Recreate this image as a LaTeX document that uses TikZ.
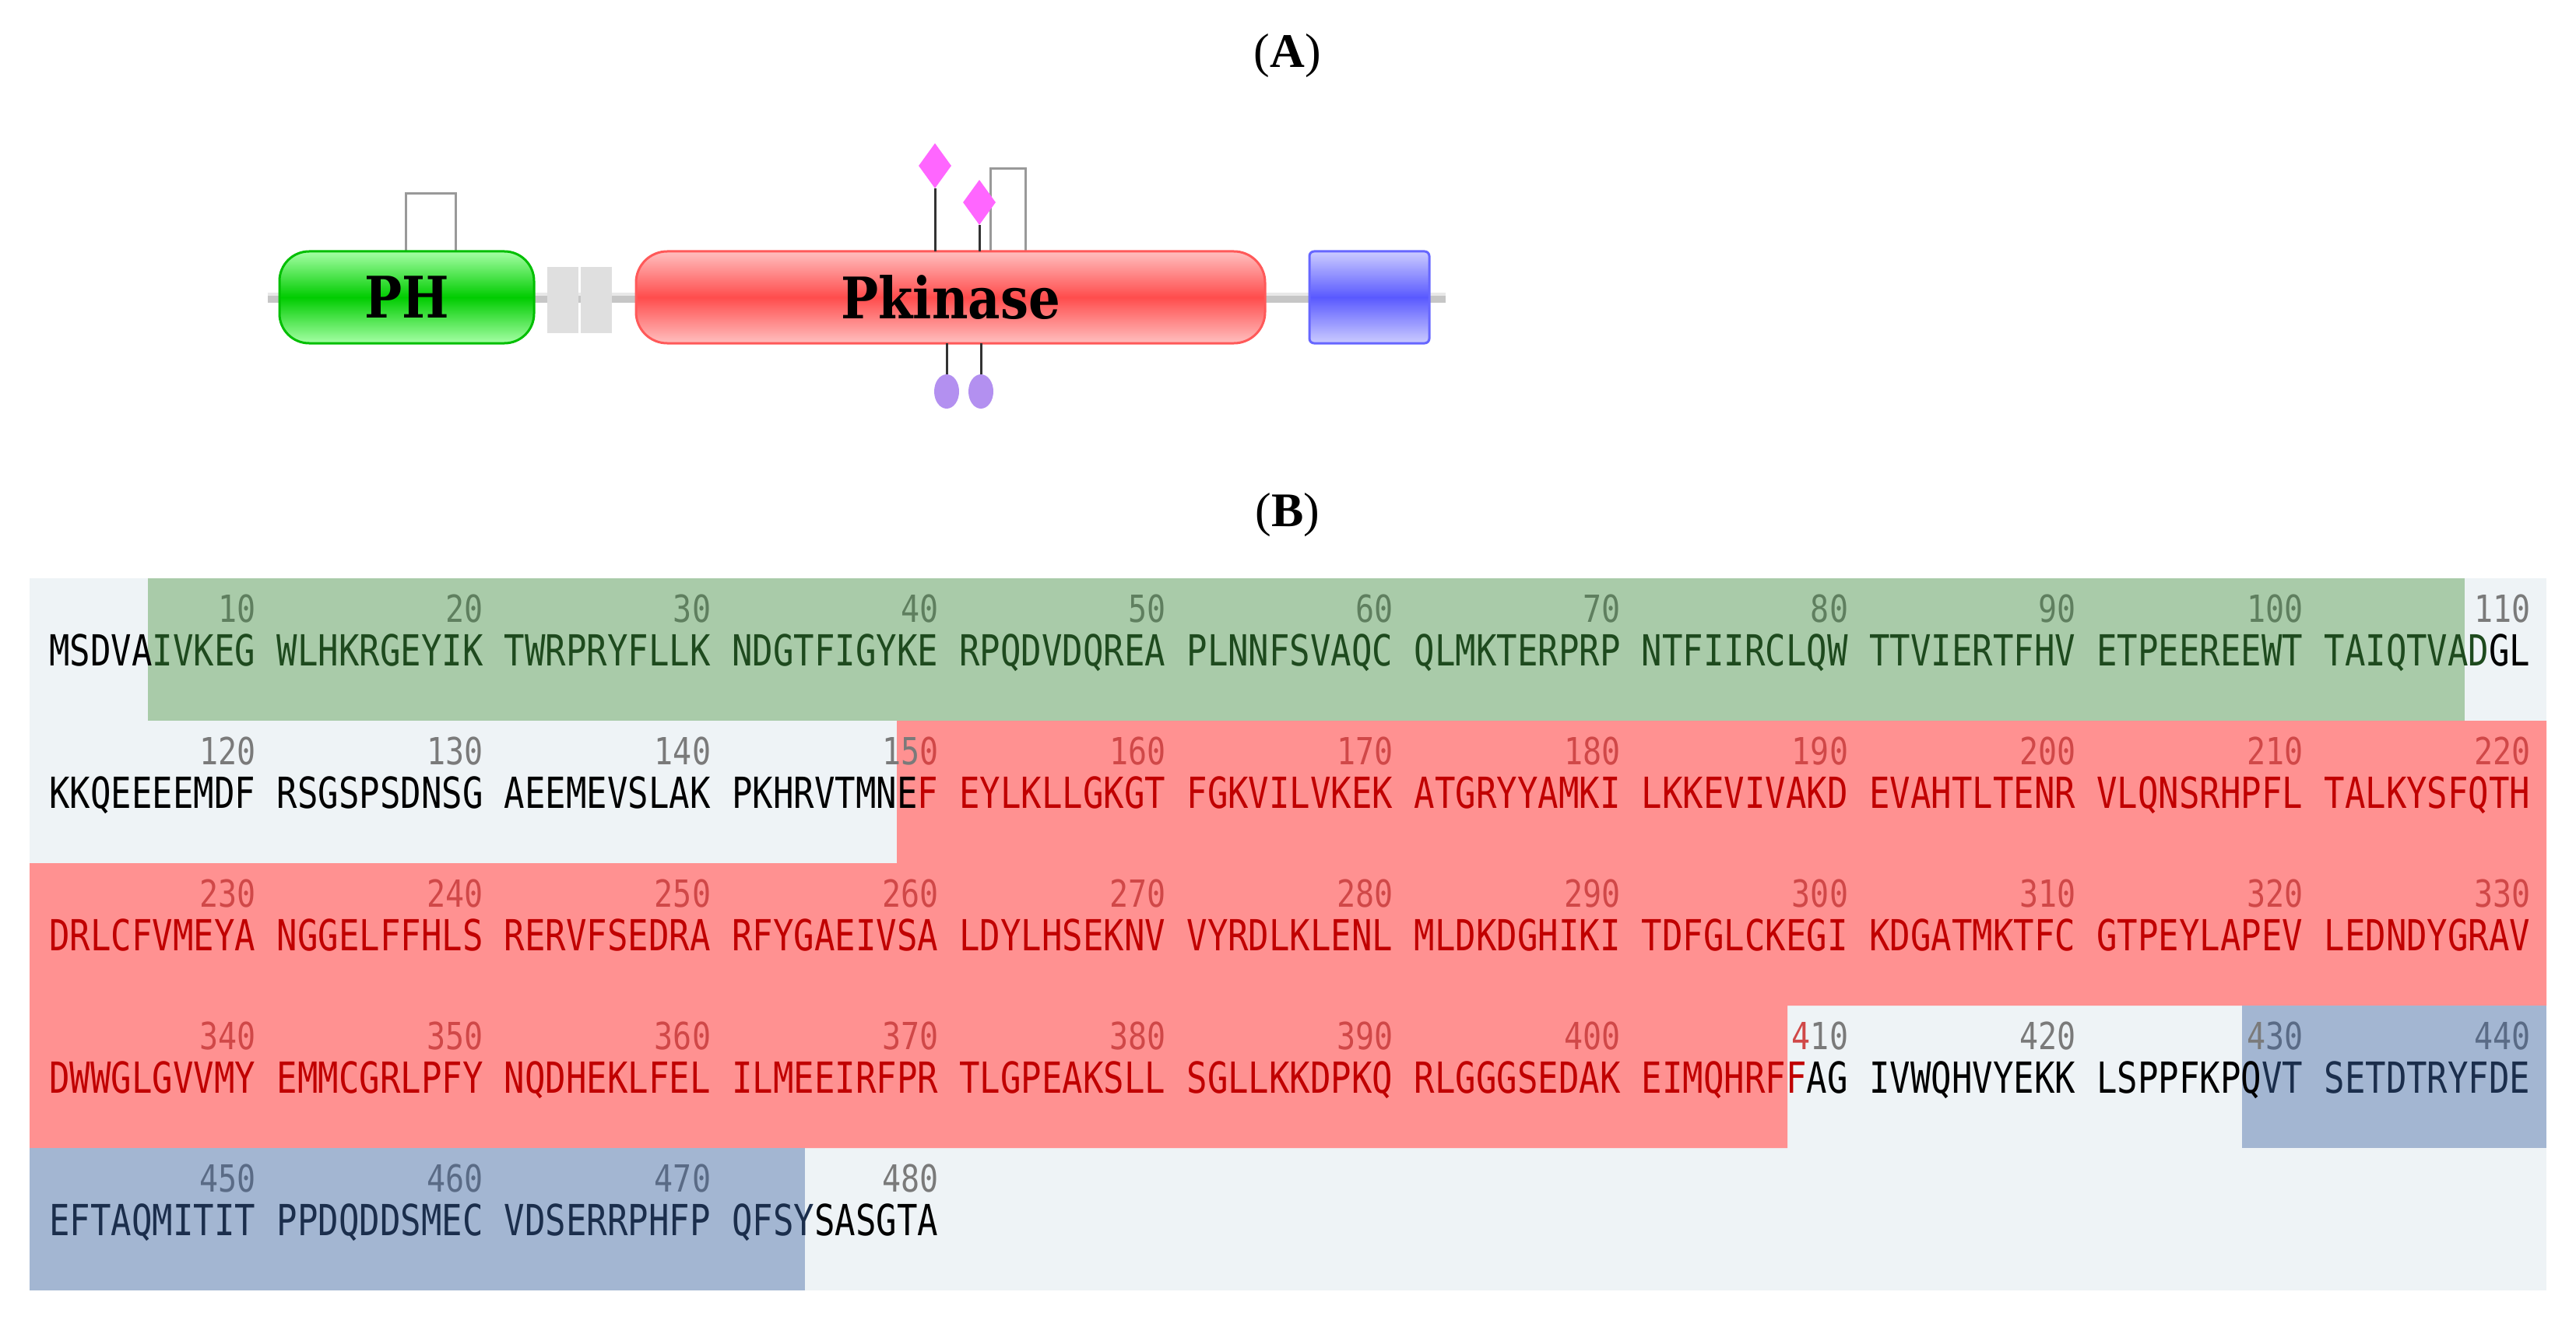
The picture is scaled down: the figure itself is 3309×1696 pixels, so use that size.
\documentclass[tikz,border=0pt]{standalone}
\usepackage{fontspec}
\setmainfont{Liberation Serif}
\setmonofont{DejaVu Sans Mono}
\newfontfamily\domfont{DejaVu Serif}
\usetikzlibrary{shapes.geometric}
\definecolor{bgpanel}{HTML}{EEF3F6}
\definecolor{greg}{HTML}{A9CBA9}
\definecolor{redg}{HTML}{FF9191}
\definecolor{blug}{HTML}{A3B6D2}
\definecolor{gtxt}{HTML}{1E4A1E}
\definecolor{rtxt}{HTML}{C00000}
\definecolor{btxt}{HTML}{1B2E4C}
\definecolor{gnum}{HTML}{5F7F5F}
\definecolor{rnum}{HTML}{D04848}
\definecolor{bnum}{HTML}{5A6B86}
\definecolor{knum}{HTML}{7A7A7A}
\definecolor{pinkd}{HTML}{FF66FF}
\definecolor{lavo}{HTML}{B390F0}
\newcommand{\G}[1]{\textcolor{gtxt}{#1}}
\newcommand{\R}[1]{\textcolor{rtxt}{#1}}
\newcommand{\Bl}[1]{\textcolor{btxt}{#1}}
\newcommand{\K}[1]{\textcolor{black}{#1}}
\tikzset{
  seqtxt/.style={anchor=base west,inner sep=0pt,transform shape,yscale=1.25,font=\fontsize{44}{44}\selectfont\ttfamily},
  numtxt/.style={anchor=base east,inner sep=0pt,transform shape,yscale=1.2,font=\fontsize{40}{40}\selectfont\ttfamily},
  plabel/.style={font=\fontsize{62}{62}\selectfont},
  stemline/.style={line width=3pt,draw=black!80},
  bracket/.style={line width=3pt,draw=gray!80},
  domlabel/.style={transform shape,yscale=1.15,font=\fontsize{64}{64}\selectfont\domfont\bfseries}
}
% #1 row, #2 col, #3 text, #4 number, #5 number colour
\newcommand{\blk}[5]{%
  \node[seqtxt] (s#1-#2) at ({63.3+#2*292.2},{743+#1*183+112}) {#3};
  \node[numtxt,text=#5] (n#1-#2) at ({63.3+#2*292.2+10*26.56},{743+#1*183+56}) {#4};}
\begin{document}
\begin{tikzpicture}[x=1pt,y=-1pt]
\useasboundingbox (0,0) rectangle (3309,1696);
\fill[white] (0,0) rectangle (3309,1696);
\node[plabel] (la) at (1654,72) {(\textbf{A})};
\node[plabel] (lb) at (1654,662) {(\textbf{B})};
% ---- domain diagram
\coordinate (bbL) at (344,382); \coordinate (bbR) at (1857,382);
\draw[line width=13pt,draw=gray!45] (bbL) -- (bbR);
\draw[line width=4pt,draw=white,opacity=0.6] (344,378) -- (1857,378);
\coordinate (phA) at (521,323); \coordinate (phB) at (585,323);
\draw[bracket] (phA) -- (521,249) -- (585,249) -- (phB);
\coordinate (pkA) at (1272,323); \coordinate (pkB) at (1317,323);
\draw[bracket] (pkA) -- (1272,217) -- (1317,217) -- (pkB);
\fill[gray!25] (703,343) rectangle (743,428);
\fill[gray!25] (746,343) rectangle (786,428);
\node[draw=green!75!black,line width=3pt,rounded corners=38pt,minimum width=327pt,minimum height=118pt,
  top color=green!35,bottom color=green!35,middle color=green!80!black] (ph) at (522.5,382) {};
\node[domlabel] (phl) at (ph.center) {PH};
\node[draw=red!65,line width=3pt,rounded corners=40pt,minimum width=808pt,minimum height=118pt,
  top color=red!25,bottom color=red!25,middle color=red!70] (pk) at (1221,382) {};
\node[domlabel] (pkl) at (pk.center) {Pkinase};
\node[draw=blue!60,line width=3pt,rounded corners=6pt,minimum width=154pt,minimum height=118pt,
  top color=blue!20,bottom color=blue!20,middle color=blue!65] (bl) at (1759,382) {};
% phospho sites
\coordinate (d1b) at (1201,323); \coordinate (d2b) at (1258,323);
\node[diamond,fill=pinkd,inner sep=0pt,minimum width=42pt,minimum height=58pt] (d1) at (1201,213) {};
\node[diamond,fill=pinkd,inner sep=0pt,minimum width=42pt,minimum height=58pt] (d2) at (1258,260) {};
\draw[stemline] (d1.south) -- (d1b);
\draw[stemline] (d2.south) -- (d2b);
\coordinate (o1t) at (1216,441); \coordinate (o2t) at (1260,441);
\node[ellipse,fill=lavo,inner sep=0pt,minimum width=32pt,minimum height=44pt] (o1) at (1216,503) {};
\node[ellipse,fill=lavo,inner sep=0pt,minimum width=32pt,minimum height=44pt] (o2) at (1260,503) {};
\draw[stemline] (o1t) -- (o1.north);
\draw[stemline] (o2t) -- (o2.north);
% ---- sequence panel
\fill[bgpanel] (38,743) rectangle (3271,1658);
\fill[greg] (190,743) rectangle (3166,926);
\fill[redg] (1152,926) -- (3271,926) -- (3271,1292) -- (2296,1292) -- (2296,1475) -- (38,1475) -- (38,1109) -- (1152,1109) -- cycle;
\fill[blug] (2880,1292) rectangle (3271,1475);
\fill[blug] (38,1475) rectangle (1034,1658);
% row 0
\blk{0}{0}{\K{MSDVA}\G{IVKEG}}{10}{gnum}
\blk{0}{1}{\G{WLHKRGEYIK}}{20}{gnum}
\blk{0}{2}{\G{TWRPRYFLLK}}{30}{gnum}
\blk{0}{3}{\G{NDGTFIGYKE}}{40}{gnum}
\blk{0}{4}{\G{RPQDVDQREA}}{50}{gnum}
\blk{0}{5}{\G{PLNNFSVAQC}}{60}{gnum}
\blk{0}{6}{\G{QLMKTERPRP}}{70}{gnum}
\blk{0}{7}{\G{NTFIIRCLQW}}{80}{gnum}
\blk{0}{8}{\G{TTVIERTFHV}}{90}{gnum}
\blk{0}{9}{\G{ETPEEREEWT}}{100}{gnum}
\blk{0}{10}{\G{TAIQTVAD}\K{GL}}{110}{knum}
% row 1
\blk{1}{0}{KKQEEEEMDF}{120}{knum}
\blk{1}{1}{RSGSPSDNSG}{130}{knum}
\blk{1}{2}{AEEMEVSLAK}{140}{knum}
\blk{1}{3}{\K{PKHRVTMNE}\R{F}}{15\textcolor{rnum}{0}}{knum}
\blk{1}{4}{\R{EYLKLLGKGT}}{160}{rnum}
\blk{1}{5}{\R{FGKVILVKEK}}{170}{rnum}
\blk{1}{6}{\R{ATGRYYAMKI}}{180}{rnum}
\blk{1}{7}{\R{LKKEVIVAKD}}{190}{rnum}
\blk{1}{8}{\R{EVAHTLTENR}}{200}{rnum}
\blk{1}{9}{\R{VLQNSRHPFL}}{210}{rnum}
\blk{1}{10}{\R{TALKYSFQTH}}{220}{rnum}
% row 2
\blk{2}{0}{\R{DRLCFVMEYA}}{230}{rnum}
\blk{2}{1}{\R{NGGELFFHLS}}{240}{rnum}
\blk{2}{2}{\R{RERVFSEDRA}}{250}{rnum}
\blk{2}{3}{\R{RFYGAEIVSA}}{260}{rnum}
\blk{2}{4}{\R{LDYLHSEKNV}}{270}{rnum}
\blk{2}{5}{\R{VYRDLKLENL}}{280}{rnum}
\blk{2}{6}{\R{MLDKDGHIKI}}{290}{rnum}
\blk{2}{7}{\R{TDFGLCKEGI}}{300}{rnum}
\blk{2}{8}{\R{KDGATMKTFC}}{310}{rnum}
\blk{2}{9}{\R{GTPEYLAPEV}}{320}{rnum}
\blk{2}{10}{\R{LEDNDYGRAV}}{330}{rnum}
% row 3
\blk{3}{0}{\R{DWWGLGVVMY}}{340}{rnum}
\blk{3}{1}{\R{EMMCGRLPFY}}{350}{rnum}
\blk{3}{2}{\R{NQDHEKLFEL}}{360}{rnum}
\blk{3}{3}{\R{ILMEEIRFPR}}{370}{rnum}
\blk{3}{4}{\R{TLGPEAKSLL}}{380}{rnum}
\blk{3}{5}{\R{SGLLKKDPKQ}}{390}{rnum}
\blk{3}{6}{\R{RLGGGSEDAK}}{400}{rnum}
\blk{3}{7}{\R{EIMQHRFF}\K{AG}}{\textcolor{rnum}{4}10}{knum}
\blk{3}{8}{IVWQHVYEKK}{420}{knum}
\blk{3}{9}{\K{LSPPFKPQ}\Bl{VT}}{4\textcolor{bnum}{30}}{knum}
\blk{3}{10}{\Bl{SETDTRYFDE}}{440}{bnum}
% row 4
\blk{4}{0}{\Bl{EFTAQMITIT}}{450}{bnum}
\blk{4}{1}{\Bl{PPDQDDSMEC}}{460}{bnum}
\blk{4}{2}{\Bl{VDSERRPHFP}}{470}{bnum}
\blk{4}{3}{\Bl{QFSY}\K{SASGTA}}{480}{knum}
\end{tikzpicture}
\end{document}
